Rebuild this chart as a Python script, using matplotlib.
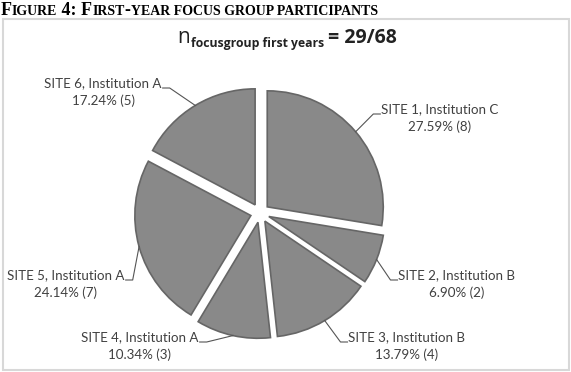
import numpy as np
import matplotlib

matplotlib.use("Agg")
import matplotlib.pyplot as plt  # noqa: E402
from matplotlib.patches import Rectangle  # noqa: E402

sites = ["SITE 1, Institution C", "SITE 2, Institution B", "SITE 3, Institution B",
         "SITE 4, Institution A", "SITE 5, Institution A", "SITE 6, Institution A"]
counts = [8, 2, 4, 3, 7, 5]
total_population = 68

# label text block centres (px, y down) and which side the leader attaches to
label_pos = [(440, 109), (457, 275), (407, 337), (140, 337), (66, 275), (103, 83)]
label_side = ["left", "left", "left", "right", "right", "right"]

W, H = 571, 372
FONT = "Lato"
TEXT = "#404040"

fig = plt.figure(figsize=(W / 100, H / 100), dpi=100)
ax = fig.add_axes([0, 0, 1, 1])
ax.set_xlim(0, W)
ax.set_ylim(0, H)
ax.set_aspect("equal")
ax.axis("off")


def py(y):
    return H - y


ax.add_patch(Rectangle((3, py(370)), 566, 351, fill=False, edgecolor="#d8d8d8", lw=1.5))

cx, cy, radius, gap = 260, py(213), 116, 9.5
wedges, _ = ax.pie(counts, startangle=90, counterclock=False, radius=radius,
                   center=(cx, cy), explode=[gap] * len(counts),
                   colors=["#898989"] * len(counts),
                   wedgeprops=dict(edgecolor="#666666", linewidth=1.2))
ax.set_xlim(0, W)
ax.set_ylim(0, H)

n = sum(counts)
fig.canvas.draw()
renderer = fig.canvas.get_renderer()
for w, site, c, (lx, ly), side in zip(wedges, sites, counts, label_pos, label_side):
    mid = np.deg2rad((w.theta1 + w.theta2) / 2)
    ox, oy = w.center
    ex, ey = ox + radius * np.cos(mid), oy + radius * np.sin(mid)
    t = ax.text(lx, py(ly), site, ha="center", va="center", fontsize=9.6,
                family=FONT, color=TEXT)
    ax.text(lx, py(ly + 18), f"{c / n * 100:.2f}% ({c})", ha="center", va="center",
            fontsize=9.6, family=FONT, color=TEXT)
    bb = t.get_window_extent(renderer).transformed(ax.transData.inverted())
    ty = py(ly + 5)
    if side == "left":
        tx = bb.x0 - 1
        kx = tx - 7
    else:
        tx = bb.x1 + 1
        kx = tx + 7
    ax.plot([ex, kx, tx], [ey, ty, ty], color="#555555", lw=0.8)

# chart title: n_{focusgroup first years} = 29/68
x = 177
t1 = ax.text(x, py(43), "n", fontsize=15, family="Open Sans", color="#222222",
             va="baseline", ha="left")
x = t1.get_window_extent(renderer).transformed(ax.transData.inverted()).x1 + 1
t2 = ax.text(x, py(47), "focusgroup first years", fontsize=8.8, family="Open Sans",
             weight="bold", color="#222222", va="baseline", ha="left")
x = t2.get_window_extent(renderer).transformed(ax.transData.inverted()).x1 + 4
ax.text(x, py(43), f"= {n}/{total_population}", fontsize=14, family="Open Sans",
        weight="bold", color="#222222", va="baseline", ha="left")

# figure caption in small caps
parts = [("F", 13), ("IGURE", 10), (" 4: F", 13), ("IRST", 10), ("-", 13),
         ("YEAR FOCUS GROUP PARTICIPANTS", 10)]
x = 1
for s, size in parts:
    tt = ax.text(x, py(15), s, fontsize=size, family="Liberation Serif", weight="bold",
                 color="black", va="baseline", ha="left")
    x = tt.get_window_extent(renderer).transformed(ax.transData.inverted()).x1

fig.savefig("out.png", dpi=100)
